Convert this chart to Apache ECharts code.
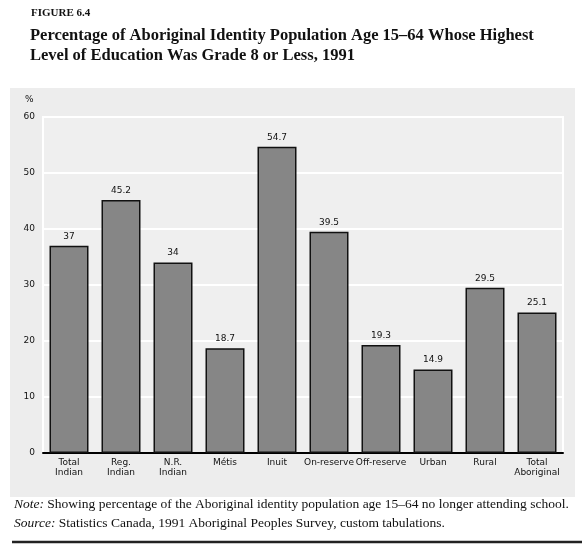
<!DOCTYPE html>
<html><head><meta charset="utf-8">
<script src="https://cdn.jsdelivr.net/npm/echarts@6/dist/echarts.min.js"></script>
<style>html,body{margin:0;padding:0;background:#fff}#c{width:582px;height:548px}</style>
</head><body><div id="c"></div>
<script>
const categories = ['Total\nIndian','Reg.\nIndian','N.R.\nIndian','Métis','Inuit','On-reserve','Off-reserve','Urban','Rural','Total\nAboriginal'];
const values = [37, 45.2, 34, 18.7, 54.7, 39.5, 19.3, 14.9, 29.5, 25.1];
const valueLabels = ['37','45.2','34','18.7','54.7','39.5','19.3','14.9','29.5','25.1'];
const yTicks = [0, 10, 20, 30, 40, 50, 60];

const chart = echarts.init(document.getElementById('c'));
const serif = '"Liberation Serif", "DejaVu Serif", serif';
chart.setOption({
  backgroundColor: '#fff',
  animation: false,
  graphic: [
    { type: 'rect', z: -10, shape: { x: 10, y: 88, width: 565, height: 409 }, style: { fill: '#ededed' } },
    { type: 'rect', z: -9, shape: { x: 43, y: 117, width: 520, height: 336 }, style: { fill: '#efefef', stroke: '#ffffff', lineWidth: 2 } },
    { type: 'line', shape: { x1: 12, y1: 542, x2: 582, y2: 542 }, style: { stroke: '#222', lineWidth: 2.5 } },
    { type: 'text', left: 31, top: 8, style: { text: 'FIGURE 6.4', font: 'bold 11px ' + serif, fill: '#111' } },
    { type: 'text', left: 30, top: 26, style: { text: 'Percentage of Aboriginal Identity Population Age 15–64 Whose Highest\nLevel of Education Was Grade 8 or Less, 1991', font: 'bold 16.5px ' + serif, lineHeight: 20, fill: '#111' } },
    { type: 'text', left: 14, top: 497, style: { rich: { i: { fontStyle: 'italic', fontFamily: serif, fontSize: 13.5, fill: '#111' }, n: { fontFamily: serif, fontSize: 13.5, fill: '#111' } }, text: '{i|Note:} {n|Showing percentage of the Aboriginal identity population age 15–64 no longer attending school.}' } },
    { type: 'text', left: 14, top: 516, style: { rich: { i: { fontStyle: 'italic', fontFamily: serif, fontSize: 13.5, fill: '#111' }, n: { fontFamily: serif, fontSize: 13.5, fill: '#111' } }, text: '{i|Source:} {n|Statistics Canada, 1991 Aboriginal Peoples Survey, custom tabulations.}' } },
    { type: 'text', left: 25, top: 95, style: { text: '%', font: '9px "DejaVu Sans", sans-serif', fill: '#111' } }
  ],
  grid: { left: 43, right: 19, top: 117, bottom: 95 },
  xAxis: {
    type: 'category', data: categories,
    axisLine: { lineStyle: { color: '#000', width: 2 } },
    axisTick: { show: false },
    axisLabel: { color: '#111', fontSize: 9, fontFamily: '"DejaVu Sans", sans-serif', lineHeight: 10, margin: 5, interval: 0 }
  },
  yAxis: {
    type: 'value', min: 0, max: 60, interval: 10,
    axisLine: { show: false }, axisTick: { show: false },
    splitLine: { lineStyle: { color: '#ffffff', width: 2 } },
    axisLabel: { color: '#111', fontSize: 9, fontFamily: '"DejaVu Sans", sans-serif', margin: 8,
      formatter: v => yTicks.includes(v) ? String(v) : '' }
  },
  series: [{
    type: 'bar', data: values, barCategoryGap: '25%',
    itemStyle: { color: '#868686', borderColor: '#111', borderWidth: 1.5 },
    label: { show: true, position: 'top', distance: 5, color: '#111', fontSize: 9, fontFamily: '"DejaVu Sans", sans-serif',
      formatter: p => valueLabels[p.dataIndex] }
  }]
});
</script></body></html>
